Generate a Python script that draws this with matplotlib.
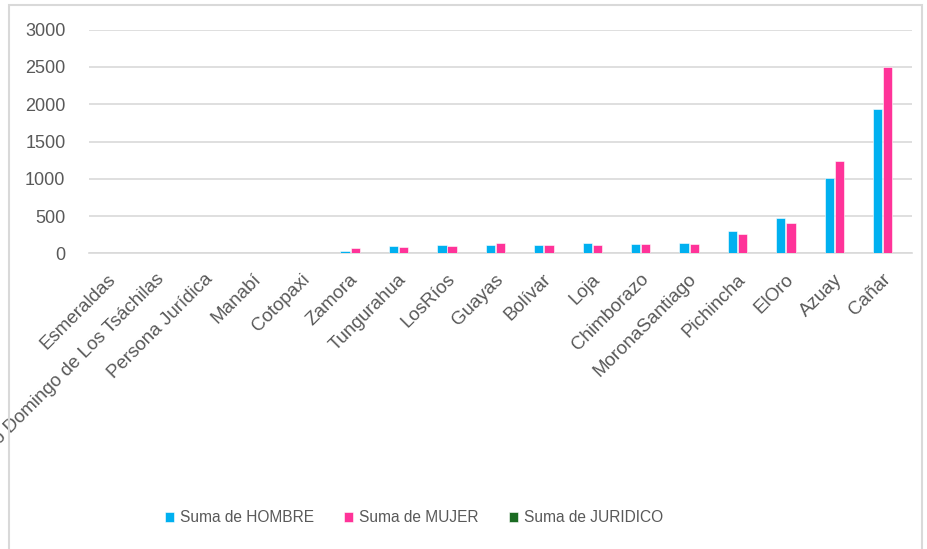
import matplotlib
matplotlib.use("Agg")
import matplotlib.pyplot as plt
from matplotlib.patches import Rectangle
import numpy as np

plt.rcParams['font.family'] = ['Liberation Sans', 'DejaVu Sans']

provincias = ["Esmeraldas", "Santo Domingo de Los Tsáchilas", "Persona Jurídica",
              "Manabí", "Cotopaxi", "Zamora", "Tungurahua", "LosRíos", "Guayas",
              "Bolívar", "Loja", "Chimborazo", "MoronaSantiago", "Pichincha",
              "ElOro", "Azuay", "Cañar"]
hombre = [0, 0, 0, 0, 0, 35, 98, 115, 115, 115, 134, 129, 142, 303, 478, 1015, 1937]
mujer = [0, 0, 0, 0, 0, 70, 85, 98, 134, 115, 115, 129, 129, 259, 407, 1235, 2504]
juridico = [0] * 17

series = [("Suma de HOMBRE", hombre, "#00b0f0"),
          ("Suma de MUJER", mujer, "#ff3399"),
          ("Suma de JURIDICO", juridico, "#1a6b22")]

fig = plt.figure(figsize=(9.28, 5.49), dpi=100)
ax = fig.add_axes([89 / 928, 1 - 253.3 / 549, 823 / 928, 223.6 / 549])

x = np.arange(len(provincias))
w = 0.19
for i, (name, vals, col) in enumerate(series):
    ax.bar(x + (i - 1) * 0.21, vals, width=w, color=col, label=name,
           edgecolor="white", linewidth=0.4, zorder=3)

ax.set_xlim(-0.5, len(provincias) - 0.5)
ax.set_ylim(0, 3000)
ax.set_yticks(range(0, 3001, 500))
ax.yaxis.grid(True, color="#d9d9d9", linewidth=1.2, zorder=0)
ax.set_axisbelow(True)
for s in ["top", "right", "left"]:
    ax.spines[s].set_visible(False)
ax.spines["bottom"].set_color("#d9d9d9")
ax.spines["bottom"].set_linewidth(1.2)
ax.tick_params(axis="both", length=0, colors="#595959")
ax.tick_params(axis="y", pad=17, labelsize=13)
ax.set_xticks(x)
ax.set_xticklabels(provincias, rotation=45, ha="right", va="center",
                   rotation_mode="anchor", fontsize=13.5)
ax.tick_params(axis="x", pad=17)

fig.legend(loc="center", bbox_to_anchor=(414 / 928, 1 - 518 / 549), ncol=3,
           frameon=False, fontsize=11.2, handlelength=0.6, handleheight=0.6,
           handletextpad=0.4, columnspacing=1.9, labelcolor="#595959")

# chart border
fig.patches.append(Rectangle((9 / 928, -0.01), 913 / 928, 1 - 5 / 549 + 0.01,
                             transform=fig.transFigure, fill=False,
                             edgecolor="#d9d9d9", linewidth=1.5))

fig.savefig("out.png", dpi=100)
